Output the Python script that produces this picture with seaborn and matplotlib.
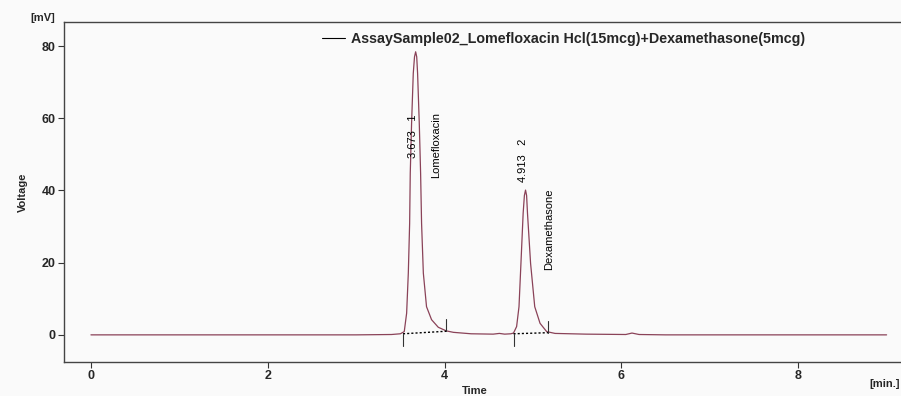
import pandas as pd
import matplotlib.pyplot as plt
import seaborn as sns

# Chromatogram trace (time in min, signal in mV)
time = [0.0, 1.0, 2.0, 3.0, 3.40, 3.50, 3.544, 3.571, 3.59, 3.605, 3.612, 3.627,
        3.646, 3.66, 3.673, 3.685, 3.695, 3.714, 3.729, 3.74, 3.76, 3.796, 3.853,
        3.929, 4.02, 4.10, 4.30, 4.55, 4.62, 4.68, 4.75, 4.78, 4.815, 4.842, 4.864,
        4.889, 4.903, 4.916, 4.928, 4.938, 4.973, 5.02, 5.08, 5.155, 5.25, 5.60,
        6.05, 6.12, 6.20, 6.50, 7.0, 8.0, 9.0]
voltage = [0.0, 0.0, 0.0, 0.0, 0.1, 0.3, 0.9, 6.0, 17.1, 30.9, 44.8, 58.6,
           72.4, 77.0, 78.4, 77.0, 72.4, 58.6, 44.8, 30.9, 17.1, 7.8, 4.2,
           2.1, 1.1, 0.7, 0.3, 0.2, 0.4, 0.2, 0.3, 0.5, 2.3, 7.8, 19.8,
           33.7, 38.6, 40.1, 38.6, 33.7, 19.8, 7.8, 3.2, 0.9, 0.4, 0.2,
           0.1, 0.5, 0.1, 0.0, 0.0, 0.0, 0.0]

# Peak table
peak_no = ['1', '2']
peak_rt = [3.673, 4.913]
peak_name = ['Lomefloxacin', 'Dexamethasone']
peak_start = [3.53, 4.78]
peak_end = [4.02, 5.17]
start_level = [0.3, 0.3]
end_level = [1.0, 0.6]

legend_label = 'AssaySample02_Lomefloxacin Hcl(15mcg)+Dexamethasone(5mcg)'

df = pd.DataFrame({'Time': time, 'Voltage': voltage})

sns.set_style('white')
plt.rcParams['font.family'] = ['Liberation Sans', 'DejaVu Sans']

fig = plt.figure(figsize=(9.01, 3.96), dpi=100)
fig.patch.set_facecolor('#fafafa')
ax = fig.add_axes([0.071, 0.086, 0.929, 0.858])
ax.set_facecolor('#fafafa')

sns.lineplot(data=df, x='Time', y='Voltage', color='#8a4258', linewidth=0.9, ax=ax,
             label=legend_label)

# integration baselines and markers
for s, e, sl, el in zip(peak_start, peak_end, start_level, end_level):
    ax.plot([s, e], [sl, el], color='black', linestyle=(0, (1.5, 1.5)), linewidth=1.0)
    ax.plot([s, s], [sl, sl - 3.3], color='#333333', linewidth=0.8)
    ax.plot([e, e], [el, el + 3.3], color='#333333', linewidth=0.8)

# peak labels
label_x = [3.64, 4.89]
label_y = [49.0, 42.4]
name_x = [3.90, 5.18]
name_y = [43.5, 18.0]
for i in range(len(peak_no)):
    ax.text(label_x[i], label_y[i], f'{peak_rt[i]:.3f}   {peak_no[i]}', rotation=90,
            ha='center', va='bottom', fontsize=8, color='black')
    ax.text(name_x[i], name_y[i], peak_name[i], rotation=90,
            ha='center', va='bottom', fontsize=8, color='black')

ax.set_xlim(-0.305, 9.163)
ax.set_ylim(-7.5, 86.6)
ax.set_xticks([0, 2, 4, 6, 8])
ax.set_yticks([0, 20, 40, 60, 80])
ax.tick_params(axis='both', which='both', length=4, width=0.8, color='#333333',
               labelsize=9, pad=2, left=True, bottom=True)
for lab in ax.get_xticklabels() + ax.get_yticklabels():
    lab.set_fontweight('bold')

for side in ['left', 'bottom', 'top']:
    ax.spines[side].set_color('#444444')
    ax.spines[side].set_linewidth(1.0)
ax.spines['right'].set_visible(False)

ax.set_xlabel('')
ax.set_ylabel('Voltage', fontsize=8, fontweight='bold', labelpad=10)
fig.text(0.527, 0.0, 'Time', fontsize=8, fontweight='bold', ha='center', va='bottom')
fig.text(0.048, 0.955, '[mV]', fontsize=8, fontweight='bold', ha='center', va='center')
fig.text(0.999, 0.03, '[min.]', fontsize=8, fontweight='bold', ha='right', va='center')

leg = ax.legend(loc='upper left', bbox_to_anchor=(0.293, 1.008), frameon=False,
                handlelength=1.6, handletextpad=0.4,
                prop={'weight': 'bold', 'size': 10.3})
for line in leg.get_lines():
    line.set_color('black')
    line.set_linewidth(0.8)

fig.savefig('out.png', dpi=100, facecolor=fig.get_facecolor())
